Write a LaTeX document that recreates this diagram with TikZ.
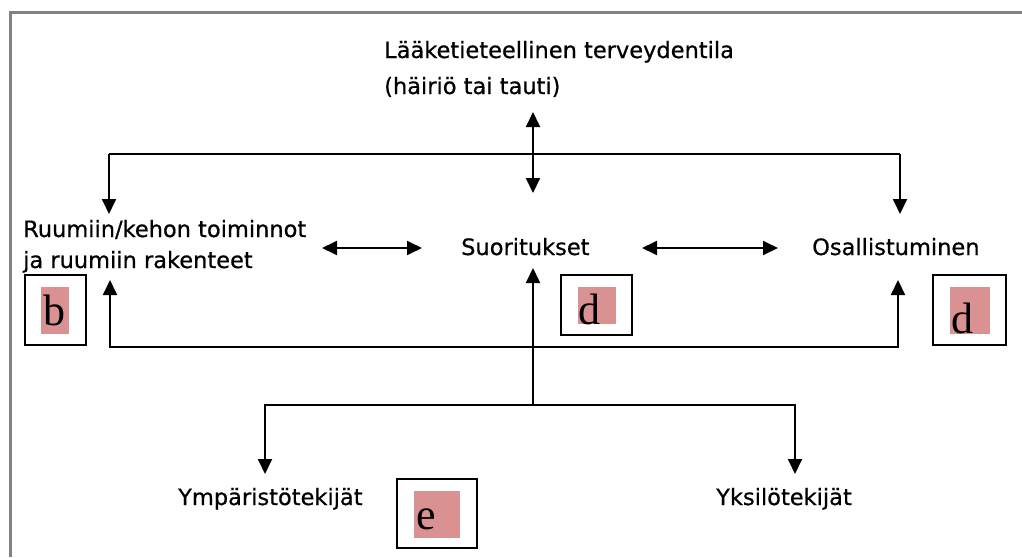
\documentclass[tikz,border=0pt]{standalone}
\usepackage{fontspec}
\setmainfont[FakeBold=0.6]{DejaVu Sans}
\newfontfamily\letterfont{Liberation Serif}
\usetikzlibrary{arrows.meta}
\definecolor{framegray}{RGB}{130,130,130}
\definecolor{tagpink}{RGB}{217,145,145}
\begin{document}
\begin{tikzpicture}[x=1pt,y=-1pt,
  lbl/.style={inner sep=0pt, anchor=base west, align=left,
    font=\fontsize{22.5}{31}\selectfont},
  tip/.style={-{Triangle[length=15pt,width=14pt]}},
  both/.style={{Triangle[length=15pt,width=14pt]}-{Triangle[length=15pt,width=14pt]}},
  wire/.style={line width=1.9pt},
  tagbox/.style={draw, line width=2pt},
  tagfill/.style={fill=tagpink},
  tagletter/.style={inner sep=0pt, anchor=base west,
    font=\letterfont\fontsize{44}{44}\selectfont}]
\useasboundingbox (0,0) rectangle (1022,557);
\fill[white] (0,0) rectangle (1022,557);
% page frame
\draw[framegray, line width=3pt] (10,557) -- (10,12) -- (1022,12);

% labels (a multi-line node is placed by the baseline of its last line)
\node[lbl, font=\fontsize{22.5}{36}\selectfont] (health) at (384,94)
  {Lääketieteellinen terveydentila\\(häiriö tai tauti)};
\node[lbl] (body) at (23,268) {Ruumiin/kehon toiminnot\\ja ruumiin rakenteet};
\node[lbl] (activity) at (461,255) {Suoritukset};
\node[lbl] (particip) at (812,255) {Osallistuminen};
\node[lbl] (environ) at (178,505) {Ympäristötekijät};
\node[lbl] (personal) at (716,505) {Yksilötekijät};

% lettered tags
\fill[tagfill] (41,287) rectangle (69,334);
\node[tagletter] (tagb) at (43,325) {b};
\draw[tagbox] (25,275) rectangle (86,345);
\fill[tagfill] (578,287) rectangle (616,324);
\node[tagletter] (tagd1) at (578,324) {d};
\draw[tagbox] (561,275) rectangle (632,335);
\fill[tagfill] (950,287) rectangle (990,334);
\node[tagletter] (tagd2) at (951,333) {d};
\draw[tagbox] (933,275) rectangle (1006,345);
\fill[tagfill] (414,491) rectangle (460,538);
\node[tagletter] (tage) at (416,529) {e};
\draw[tagbox] (397,479) rectangle (477,548);

% connector points
\coordinate (hTop) at (533,112);
\coordinate (hBot) at (533,193);
\coordinate (topL) at (109,154);
\coordinate (topR) at (900,154);
\coordinate (bodyIn) at (109,214);
\coordinate (partIn) at (900,214);
\coordinate (bodyE) at (322,248);
\coordinate (actW) at (422,248);
\coordinate (actE) at (642,248);
\coordinate (partW) at (778,248);
\coordinate (actUp) at (533,268);
\coordinate (fork) at (533,405);
\coordinate (envL) at (265,405);
\coordinate (perR) at (795,405);
\coordinate (envIn) at (265,474);
\coordinate (perIn) at (795,474);
\coordinate (retL) at (110,347);
\coordinate (retR) at (898,347);
\coordinate (bodyUp) at (110,280);
\coordinate (partUp) at (898,280);

% health condition links
\draw[wire, both] (hTop) -- (hBot);
\draw[wire] (topL) -- (topR);
\draw[wire, tip] (topL) -- (bodyIn);
\draw[wire, tip] (topR) -- (partIn);
% links between the three components
\draw[wire, both] (bodyE) -- (actW);
\draw[wire, both] (actE) -- (partW);
% contextual factors
\draw[wire, tip] (fork) -- (actUp);
\draw[wire, tip] (envL) -- (perR) -- (perIn);
\draw[wire, tip] (perR) -- (envL) -- (envIn);
\draw[wire, tip] (retR) -- (retL) -- (bodyUp);
\draw[wire, tip] (retL) -- (retR) -- (partUp);
\end{tikzpicture}
\end{document}
